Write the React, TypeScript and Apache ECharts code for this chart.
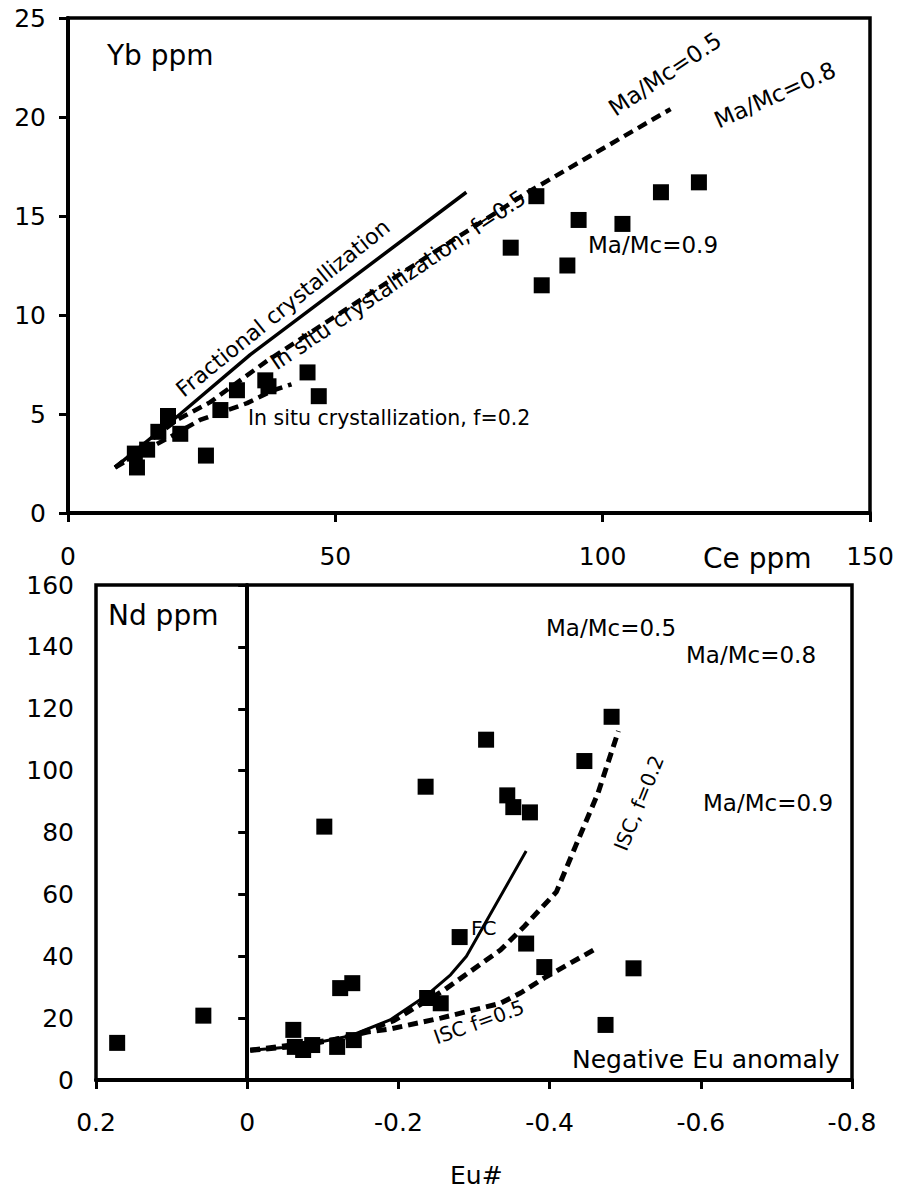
import React, { useEffect, useRef } from "react";
import * as echarts from "echarts";

// ---------- Top panel: Ce ppm vs Yb ppm ----------
const ceTicks = [0, 50, 100, 150];
const ybTicks = [0, 5, 10, 15, 20, 25];

const topSamples: [number, number][] = [
  [12.5, 3.0], [12.9, 2.3], [14.8, 3.2], [16.9, 4.1], [18.7, 4.9], [21.0, 4.0],
  [25.8, 2.9], [28.5, 5.2], [31.6, 6.2], [36.9, 6.7], [37.5, 6.4], [44.8, 7.1],
  [46.9, 5.9], [82.8, 13.4], [87.6, 16.0], [88.6, 11.5], [93.4, 12.5], [95.5, 14.8],
  [103.7, 14.6], [110.9, 16.2], [118.0, 16.7],
];
const topFC: [number, number][] = [[8.8, 2.3], [21, 5.0], [34.1, 8.0], [74.5, 16.2]];
const topISC05: [number, number][] = [
  [8.8, 2.3], [20.4, 4.7], [26.6, 5.6], [32.2, 6.7], [37.3, 7.7], [60, 11.7], [86, 16.2], [112.7, 20.4],
];
const topISC02: [number, number][] = [
  [8.8, 2.3], [14, 3.1], [19.5, 3.9], [24.7, 4.7], [33.5, 5.55], [38.4, 6.2], [41.8, 6.5],
];

// ---------- Bottom panel: Eu# vs Nd ppm ----------
const euTicks = [0.2, 0, -0.2, -0.4, -0.6, -0.8];
const ndTicks = [0, 20, 40, 60, 80, 100, 120, 140, 160];

const bottomSamples: [number, number][] = [
  [0.172, 12.0], [0.058, 20.8], [-0.061, 16.2], [-0.063, 10.7], [-0.074, 9.7], [-0.086, 11.3],
  [-0.102, 81.9], [-0.119, 10.7], [-0.123, 29.7], [-0.139, 31.3], [-0.141, 12.9], [-0.236, 94.8],
  [-0.238, 26.5], [-0.256, 24.8], [-0.281, 46.2], [-0.316, 110], [-0.344, 92], [-0.352, 88.2],
  [-0.369, 44.1], [-0.374, 86.5], [-0.393, 36.5], [-0.446, 103.1], [-0.474, 17.8], [-0.482, 117.4],
  [-0.511, 36.1],
];
const botFC: [number, number][] = [
  [-0.004, 9.6], [-0.048, 10.5], [-0.07, 11], [-0.137, 14.3], [-0.189, 19.4], [-0.238, 27.5],
  [-0.269, 34], [-0.29, 40], [-0.369, 74],
];
const botISC02: [number, number][] = [
  [-0.004, 9.6], [-0.07, 11], [-0.137, 14], [-0.194, 19.2], [-0.26, 29], [-0.335, 42],
  [-0.367, 49.8], [-0.409, 60.8], [-0.435, 76], [-0.464, 92.7], [-0.491, 112.8],
];
const botISC05: [number, number][] = [
  [-0.004, 9.6], [-0.114, 13], [-0.159, 15.5], [-0.189, 16.5], [-0.256, 20], [-0.335, 24.8],
  [-0.362, 28.2], [-0.393, 33], [-0.458, 42],
];
const zeroEu = [0];

const FONT = "DejaVu Sans";
const deg = (d: number) => (d * Math.PI) / 180;

function txt(text: string, x: number, y: number, size: number, opts: any = {}) {
  return {
    type: "text",
    x,
    y,
    rotation: opts.rotation ? deg(opts.rotation) : 0,
    silent: true,
    z: 10,
    style: {
      text,
      fill: "#000",
      font: `${size}px "${FONT}"`,
      align: opts.align || "left",
      verticalAlign: "middle",
    },
  };
}

export default function App() {
  const ref = useRef<HTMLDivElement>(null);

  useEffect(() => {
    if (!ref.current) return;
    const chart = echarts.init(ref.current, undefined, { renderer: "svg" });

    const axisCommon = {
      type: "value" as const,
      splitLine: { show: false },
      axisLine: { show: true, lineStyle: { color: "#000", width: 4 } },
      axisTick: { show: true, inside: false, length: 9, lineStyle: { color: "#000", width: 3 } },
    };
    const labelCommon = { color: "#000", fontFamily: FONT, fontSize: 25 };

    const dashed = (w: number) => ({ color: "#000", width: w, type: [10, 6] as number[], cap: "butt" as const });

    const option: any = {
      animation: false,
      backgroundColor: "#fff",
      textStyle: { fontFamily: FONT },
      grid: [
        { left: 68, top: 18, width: 802, height: 495, show: true, borderColor: "#000", borderWidth: 3.5 },
        { left: 96, top: 585, width: 756, height: 495, show: true, borderColor: "#000", borderWidth: 3.5 },
      ],
      xAxis: [
        {
          ...axisCommon,
          gridIndex: 0,
          min: ceTicks[0],
          max: ceTicks[ceTicks.length - 1],
          interval: 50,
          axisLabel: { ...labelCommon, margin: 31 },
        },
        {
          ...axisCommon,
          gridIndex: 1,
          min: euTicks[euTicks.length - 1],
          max: euTicks[0],
          interval: 0.2,
          inverse: true,
          axisLabel: {
            ...labelCommon,
            margin: 30,
            formatter: (v: number) => {
              const r = Math.round(v * 10) / 10;
              return r === 0 ? "0" : String(r);
            },
          },
        },
      ],
      yAxis: [
        {
          ...axisCommon,
          gridIndex: 0,
          min: ybTicks[0],
          max: ybTicks[ybTicks.length - 1],
          interval: 5,
          axisLabel: { ...labelCommon, margin: 22 },
        },
        {
          ...axisCommon,
          gridIndex: 1,
          min: ndTicks[0],
          max: ndTicks[ndTicks.length - 1],
          interval: 20,
          axisLabel: { ...labelCommon, margin: 22 },
        },
      ],
      series: [
        {
          type: "line", xAxisIndex: 0, yAxisIndex: 0, data: topFC, symbol: "none", z: 2,
          lineStyle: { color: "#000", width: 3.5 },
        },
        {
          type: "line", xAxisIndex: 0, yAxisIndex: 0, data: topISC05, symbol: "none", z: 2,
          lineStyle: dashed(4.5),
        },
        {
          type: "line", xAxisIndex: 0, yAxisIndex: 0, data: topISC02, symbol: "none", z: 2,
          lineStyle: dashed(4.5),
        },
        {
          type: "scatter", xAxisIndex: 0, yAxisIndex: 0, data: topSamples, symbol: "rect", symbolSize: 16, z: 3,
          itemStyle: { color: "#000", opacity: 1 },
        },
        {
          type: "line", xAxisIndex: 1, yAxisIndex: 1, data: botFC, symbol: "none", z: 2,
          lineStyle: { color: "#000", width: 3 },
        },
        {
          type: "line", xAxisIndex: 1, yAxisIndex: 1, data: botISC02, symbol: "none", z: 2,
          lineStyle: dashed(5),
        },
        {
          type: "line", xAxisIndex: 1, yAxisIndex: 1, data: botISC05, symbol: "none", z: 2,
          lineStyle: dashed(5),
        },
        {
          type: "scatter", xAxisIndex: 1, yAxisIndex: 1, data: bottomSamples, symbol: "rect", symbolSize: 16, z: 3,
          itemStyle: { color: "#000", opacity: 1 },
          markLine: {
            silent: true,
            symbol: "none",
            label: { show: false },
            lineStyle: { color: "#000", width: 1.5, type: "solid" },
            data: zeroEu.map((v) => ({ xAxis: v })),
          },
        },
      ],
      graphic: [
        // top panel annotations
        txt("Yb ppm", 107, 55, 28),
        txt("Fractional crystallization", 283, 308, 22, { align: "center", rotation: 39 }),
        txt("In situ crystallization, f=0.5", 398, 280, 22, { align: "center", rotation: 34 }),
        txt("In situ crystallization, f=0.2", 248, 418, 20.5),
        txt("Ma/Mc=0.9", 588, 245, 23),
        txt("Ma/Mc=0.5", 665, 74, 23, { align: "center", rotation: 34 }),
        txt("Ma/Mc=0.8", 775, 95, 23, { align: "center", rotation: 24 }),
        txt("Ce ppm", 703, 558, 28),
        // bottom panel annotations
        txt("Nd ppm", 108, 615, 28),
        txt("Ma/Mc=0.5", 546, 628, 23),
        txt("Ma/Mc=0.8", 686, 655, 23),
        txt("Ma/Mc=0.9", 703, 803, 23),
        txt("Negative Eu anomaly", 572, 1059, 25),
        txt("FC", 471, 928, 20),
        txt("ISC, f=0.2", 639, 803, 20, { align: "center", rotation: 68 }),
        txt("ISC f=0.5", 479, 1022, 20, { align: "center", rotation: 19.6 }),
        txt("Eu#", 450, 1175, 25),
      ],
    };

    chart.setOption(option);
    return () => chart.dispose();
  }, []);

  return (
    <div
      ref={ref}
      style={{ position: "absolute", left: 0, top: 0, width: 901, height: 1190, background: "#fff" }}
    />
  );
}
